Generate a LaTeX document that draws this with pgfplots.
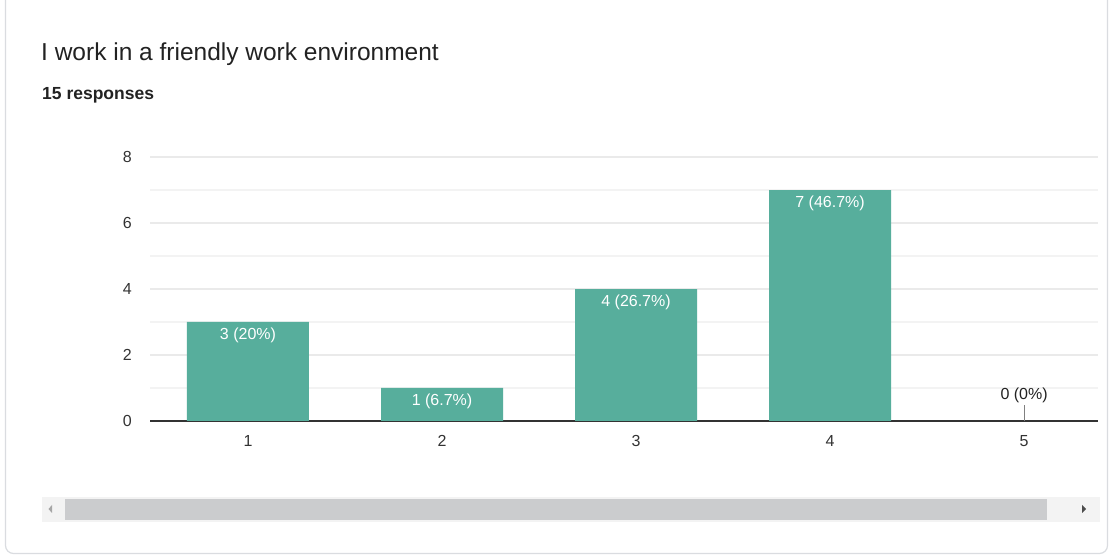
\documentclass[border=0pt]{standalone}
\usepackage{fontspec}
\setmainfont{Liberation Sans}
\usepackage{pgfplots}
\pgfplotsset{compat=1.18}
\definecolor{barc}{HTML}{57AE9C}
\definecolor{gridmaj}{HTML}{EAEAEA}
\definecolor{gridmin}{HTML}{F3F3F3}
\definecolor{axisc}{HTML}{333333}
\definecolor{tickc}{HTML}{333333}
\definecolor{titlec}{HTML}{222222}
\definecolor{cardc}{HTML}{DADCE0}
\definecolor{trackc}{HTML}{F3F3F3}
\definecolor{thumbc}{HTML}{CBCCCE}
\begin{document}
\begin{tikzpicture}
\useasboundingbox (0pt,0pt) rectangle (1110pt,556pt);
\fill[white] (0pt,0pt) rectangle (1110pt,556pt);
\begin{scope}
\clip (0pt,0pt) rectangle (1110pt,556pt);
\draw[cardc, line width=1.2pt, rounded corners=8pt] (5.5pt,2.5pt) rectangle (1107.5pt,600pt);
\end{scope}
\node[anchor=base west, inner sep=0pt, font=\fontsize{24.5}{28}\selectfont, text=titlec] at (41pt,495pt) {I work in a friendly work environment};
\node[anchor=base west, inner sep=0pt, font=\fontsize{17.5}{20}\selectfont\bfseries, text=titlec] at (42pt,456pt) {15 responses};
% scrollbar
\fill[trackc] (42pt,34pt) rectangle (1100pt,59pt);
\fill[thumbc] (65pt,36pt) rectangle (1047pt,57pt);
\fill[gray!70] (48.5pt,47pt) -- (52pt,51pt) -- (52pt,43pt) -- cycle;
\fill[black!70] (1086pt,47pt) -- (1082pt,51pt) -- (1082pt,43pt) -- cycle;
\begin{axis}[
  at={(150pt,135pt)}, anchor=south west,
  scale only axis, width=948pt, height=264pt,
  xmin=0.495, xmax=5.381, ymin=0, ymax=8,
  axis line style={draw=none},
  major tick length=0pt, minor tick length=0pt,
  tick style={draw=none},
  xtick={1,2,3,4,5}, ytick={0,2,4,6,8}, minor ytick={1,3,5,7},
  ymajorgrids, yminorgrids,
  major grid style={draw=gridmaj, line width=1.6pt},
  minor grid style={draw=gridmin, line width=1.3pt},
  /pgf/number format/assume math mode=true,
  ticklabel style={font=\fontsize{16}{18}\selectfont, text=tickc},
  yticklabel style={anchor=east, inner sep=0pt, xshift=-18pt},
  xticklabel style={anchor=north, inner sep=0pt, yshift=-14pt},
  extra y ticks={0}, extra y tick labels={},
  extra y tick style={grid=major, major grid style={draw=axisc, line width=2.8pt}},
  ybar, bar width=122pt, bar shift=0pt,
  clip=false,
]
\addplot[fill=barc, draw=none, point meta=explicit symbolic,
  nodes near coords,
  every node near coord/.append style={anchor=center, yshift=-13pt, text=white, font=\fontsize{16}{18}\selectfont}]
  coordinates {(1,3) [3 (20\%)] (2,1) [1 (6.7\%)] (3,4) [4 (26.7\%)] (4,7) [7 (46.7\%)]};
\addplot[draw=none, fill=none, point meta=explicit symbolic,
  nodes near coords,
  every node near coord/.append style={anchor=center, yshift=26pt, text=titlec, font=\fontsize{16}{18}\selectfont}]
  coordinates {(5,0) [0 (0\%)]};
\addplot[sharp plot, no marks, draw=gray, line width=1pt] coordinates {(5,0) (5,0.48)};
\end{axis}
\end{tikzpicture}
\end{document}
